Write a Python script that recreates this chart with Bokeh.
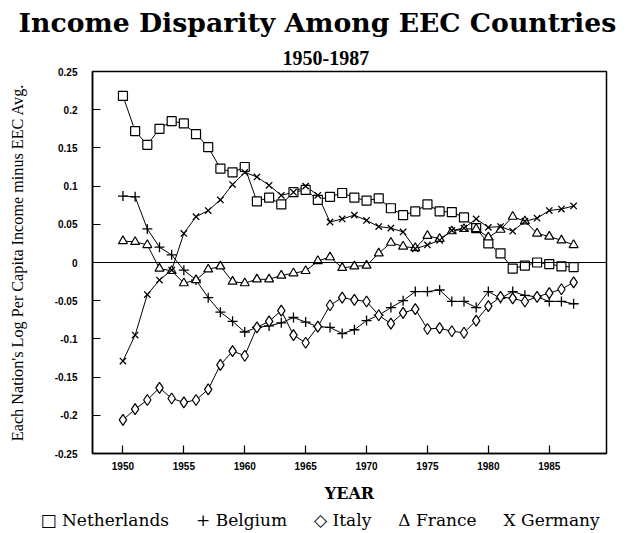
from bokeh.plotting import figure
from bokeh.models import Range1d, FixedTicker, Span, Title
from bokeh.embed import file_html
from bokeh.resources import INLINE

years = [1950, 1951, 1952, 1953, 1954, 1955, 1956, 1957, 1958, 1959,
         1960, 1961, 1962, 1963, 1964, 1965, 1966, 1967, 1968, 1969,
         1970, 1971, 1972, 1973, 1974, 1975, 1976, 1977, 1978, 1979,
         1980, 1981, 1982, 1983, 1984, 1985, 1986, 1987]

netherlands = [0.218, 0.172, 0.154, 0.175, 0.185, 0.182, 0.168, 0.151, 0.123, 0.118,
               0.125, 0.080, 0.085, 0.076, 0.092, 0.095, 0.082, 0.086, 0.091, 0.085,
               0.081, 0.084, 0.071, 0.062, 0.067, 0.076, 0.067, 0.066, 0.059, 0.045,
               0.025, 0.012, -0.008, -0.004, 0.000, -0.002, -0.005, -0.006]

belgium = [0.087, 0.086, 0.044, 0.020, 0.010, -0.010, -0.023, -0.046, -0.065, -0.077,
           -0.091, -0.085, -0.083, -0.079, -0.072, -0.078, -0.084, -0.085, -0.093, -0.088,
           -0.076, -0.069, -0.059, -0.050, -0.038, -0.038, -0.036, -0.051, -0.051, -0.059,
           -0.038, -0.047, -0.038, -0.043, -0.045, -0.051, -0.051, -0.054]

italy = [-0.206, -0.192, -0.180, -0.164, -0.178, -0.183, -0.180, -0.166, -0.134, -0.116,
         -0.122, -0.085, -0.077, -0.063, -0.095, -0.105, -0.084, -0.056, -0.046, -0.049,
         -0.051, -0.069, -0.080, -0.066, -0.061, -0.087, -0.086, -0.090, -0.092, -0.076,
         -0.057, -0.045, -0.047, -0.051, -0.045, -0.040, -0.035, -0.026]

france = [0.028, 0.027, 0.023, -0.008, -0.011, -0.027, -0.023, -0.009, -0.005, -0.025,
          -0.027, -0.022, -0.022, -0.017, -0.014, -0.011, 0.002, 0.007, -0.007, -0.005,
          -0.004, 0.012, 0.026, 0.021, 0.019, 0.035, 0.031, 0.041, 0.044, 0.044,
          0.033, 0.043, 0.060, 0.054, 0.038, 0.034, 0.029, 0.023]

germany = [-0.129, -0.095, -0.042, -0.023, -0.010, 0.038, 0.060, 0.068, 0.082, 0.102,
           0.118, 0.112, 0.101, 0.088, 0.092, 0.100, 0.088, 0.053, 0.057, 0.062,
           0.055, 0.047, 0.045, 0.040, 0.018, 0.023, 0.029, 0.042, 0.045, 0.057,
           0.046, 0.047, 0.041, 0.054, 0.058, 0.068, 0.070, 0.074]

x_ticks = [1950, 1955, 1960, 1965, 1970, 1975, 1980, 1985]
y_ticks = [0.25, 0.2, 0.15, 0.1, 0.05, 0, -0.05, -0.1, -0.15, -0.2, -0.25]
y_tick_labels = ["0.25", "0.2", "0.15", "0.1", "0.05", "0", "-0.05", "-0.1", "-0.15", "-0.2", "-0.25"]

legend_names = ["Netherlands", "Belgium", "Italy", "France", "Germany"]
legend_symbols = ["\u25a1", "+", "\u25c7", "\u0394", "X"]

W, H = 633, 533
FL, FR, FT, FB = 92, 606, 71, 453

p = figure(width=W, height=H, x_range=Range1d(1947.5, 1989.7), y_range=Range1d(-0.25, 0.25),
           output_backend="svg", toolbar_location=None, title=None,
           min_border_left=FL, min_border_right=W - FR,
           min_border_top=FT, min_border_bottom=H - FB)
p.grid.visible = False
p.outline_line_color = "black"
p.outline_line_width = 1.5
p.background_fill_color = "white"
p.border_fill_color = "white"

for ax in (p.xaxis[0], p.yaxis[0]):
    ax.major_tick_in = 8
    ax.major_tick_out = 0
    ax.minor_tick_in = 0
    ax.minor_tick_out = 0
    ax.axis_line_width = 1.5
    ax.major_tick_line_width = 1.2
    ax.major_label_text_font = "Liberation Sans"
    ax.major_label_text_font_style = "bold"
    ax.major_label_text_font_size = "10px"
    ax.major_label_text_color = "black"
    ax.axis_label_text_color = "black"

p.xaxis.ticker = FixedTicker(ticks=x_ticks)
p.xaxis.major_label_standoff = 8
p.xaxis.axis_label = "YEAR"
p.xaxis.axis_label_text_font = "DejaVu Serif"
p.xaxis.axis_label_text_font_style = "bold"
p.xaxis.axis_label_text_font_size = "16px"
p.xaxis.axis_label_standoff = 11

p.yaxis.ticker = FixedTicker(ticks=y_ticks)
p.yaxis.major_label_overrides = {t: s for t, s in zip(y_ticks, y_tick_labels)}
p.yaxis.major_label_standoff = 15
p.yaxis.axis_label = "Each Nation's Log Per Capita Income minus EEC Avg."
p.yaxis.axis_label_text_font = "Liberation Serif"
p.yaxis.axis_label_text_font_style = "normal"
p.yaxis.axis_label_text_font_size = "16.2px"
p.yaxis.axis_label_standoff = 25

p.add_layout(Span(location=0, dimension="width", line_color="black", line_width=1.2))

series = [
    (netherlands, "square", 9),
    (belgium, "cross", 10),
    (italy, "diamond", 11),
    (france, "triangle", 9),
    (germany, "x", 9),
]
for vals, mk, sz in series:
    p.line(years, vals, line_color="black", line_width=1.0)
for vals, mk, sz in series:
    if mk in ("cross", "x"):
        p.scatter(years, vals, marker=mk, size=sz, line_color="black", line_width=1.3)
    else:
        p.scatter(years, vals, marker=mk, size=sz, fill_color="white",
                  line_color="black", line_width=1.2)

# titles: first added sits nearest the frame
p.add_layout(Title(text="1950-1987", text_font="Liberation Serif", text_font_style="bold",
                   text_font_size="20px", text_color="black", align="left",
                   offset=282 - FL, standoff=14), "above")
p.add_layout(Title(text="Income Disparity Among EEC Countries", text_font="DejaVu Serif",
                   text_font_style="bold", text_font_size="26.7px", text_color="black",
                   align="left", offset=18 - FL, standoff=8), "above")

# legend row as text
gap = "\u00a0" * 5
legend_text = gap.join(s + "\u00a0" + n for s, n in zip(legend_symbols, legend_names))
p.add_layout(Title(text=legend_text, text_font="DejaVu Serif", text_font_style="normal",
                   text_font_size="17px", text_color="black", align="left",
                   offset=40 - FL, standoff=5), "below")

open("out.html", "w").write(file_html(p, INLINE))
